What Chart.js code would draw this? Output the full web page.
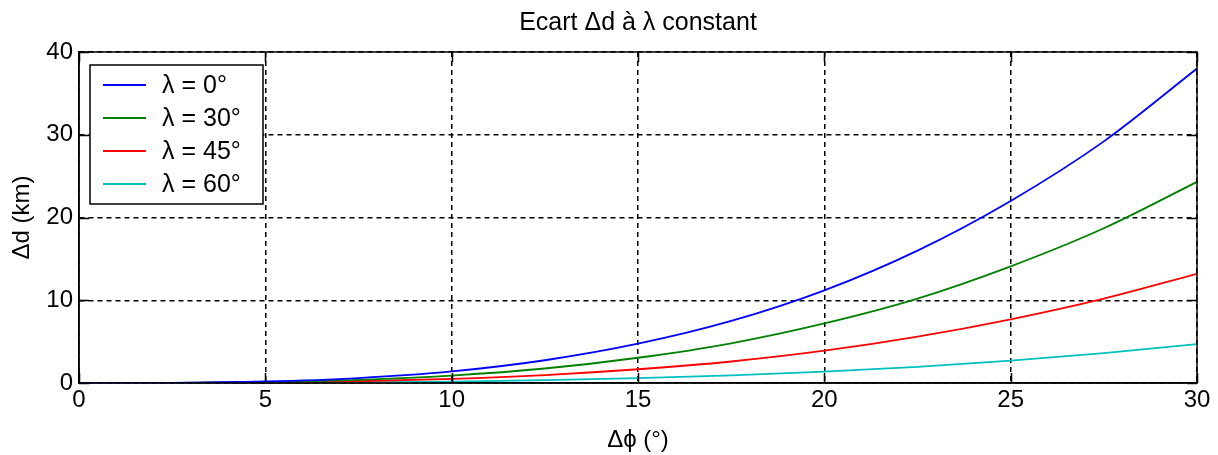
<!DOCTYPE html>
<html>
<head>
<meta charset="utf-8">
<script src="https://cdn.jsdelivr.net/npm/chart.js@4/dist/chart.umd.min.js"></script>
<style>
  html, body { margin: 0; padding: 0; background: #fff; }
  #wrap { width: 1218px; height: 455px; }
</style>
</head>
<body>
<div id="wrap"><canvas id="chart1"></canvas></div>
<script>
// Data
const dphi = [0, 2.5, 5, 7.5, 10, 12.5, 15, 17.5, 20, 22.5, 25, 27.5, 30]
const lambda_labels = ['λ = 0°', 'λ = 30°', 'λ = 45°', 'λ = 60°']
const lambda_colors = ['#0000ff', '#008000', '#ff0000', '#00bfbf']
const dd_0  = [0, 0.02, 0.18, 0.6, 1.4, 2.75, 4.75, 7.5, 11.2, 16.0, 22.0, 29.2, 38.0]
const dd_30 = [0, 0.01, 0.12, 0.38, 0.9, 1.75, 3.05, 4.8, 7.2, 10.2, 14.1, 18.7, 24.3]
const dd_45 = [0, 0.01, 0.06, 0.21, 0.49, 0.96, 1.66, 2.6, 3.9, 5.6, 7.7, 10.2, 13.2]
const dd_60 = [0, 0, 0.02, 0.07, 0.17, 0.34, 0.58, 0.92, 1.37, 1.96, 2.7, 3.6, 4.7]
const series = [dd_0, dd_30, dd_45, dd_60]
const title_text = 'Ecart Δd à λ constant'

const FONT = '"Liberation Sans", Arial, sans-serif'

// inward ticks, box frame, title and legend like matlab
const frame_plugin = {
    id: 'frame',
    afterDatasetsDraw(chart) {
        const { ctx, chartArea: a, scales } = chart
        ctx.save()
        ctx.strokeStyle = '#000'
        ctx.lineWidth = 1.5
        ctx.setLineDash([])
        ctx.beginPath()
        scales.x.ticks.forEach(t => {
            const px = Math.round(scales.x.getPixelForValue(t.value)) + 0.5
            ctx.moveTo(px, a.bottom); ctx.lineTo(px, a.bottom - 10)
            ctx.moveTo(px, a.top); ctx.lineTo(px, a.top + 10)
        })
        scales.y.ticks.forEach(t => {
            const py = Math.round(scales.y.getPixelForValue(t.value)) + 0.5
            ctx.moveTo(a.left, py); ctx.lineTo(a.left + 10, py)
            ctx.moveTo(a.right, py); ctx.lineTo(a.right - 10, py)
        })
        ctx.stroke()
        ctx.strokeRect(a.left, a.top, a.right - a.left, a.bottom - a.top)

        // title centred over the axes
        ctx.fillStyle = '#000'
        ctx.font = '25px ' + FONT
        ctx.textAlign = 'center'
        ctx.textBaseline = 'middle'
        ctx.fillText(title_text, (a.left + a.right) / 2, 23)

        // legend box inside the axes
        const bx = a.left + 11, by = a.top + 13, bw = 173, bh = 139
        ctx.fillStyle = '#fff'
        ctx.fillRect(bx, by, bw, bh)
        ctx.lineWidth = 1.5
        ctx.strokeRect(bx, by, bw, bh)
        ctx.textAlign = 'left'
        chart.data.datasets.forEach((ds, i) => {
            const ly = by + 20 + i * 33
            ctx.strokeStyle = ds.borderColor
            ctx.lineWidth = 1.8
            ctx.beginPath()
            ctx.moveTo(bx + 13, ly); ctx.lineTo(bx + 56, ly)
            ctx.stroke()
            ctx.fillStyle = '#000'
            ctx.fillText(ds.label, bx + 72, ly + 1)
        })
        ctx.restore()
    }
}

const config = {
    type: 'line',
    data: {
        datasets: series.map((s, i) => ({
            label: lambda_labels[i],
            data: dphi.map((x, k) => ({ x: x, y: s[k] })),
            borderColor: lambda_colors[i],
            borderWidth: 1.8,
            pointRadius: 0,
            fill: false,
            cubicInterpolationMode: 'monotone'
        }))
    },
    options: {
        responsive: true,
        maintainAspectRatio: false,
        animation: false,
        layout: { padding: { left: 0, right: 21, top: 52, bottom: 0 } },
        plugins: {
            legend: { display: false },
            tooltip: { enabled: false },
            title: { display: false }
        },
        scales: {
            x: {
                type: 'linear',
                min: 0, max: 30,
                ticks: { stepSize: 5, color: '#000', font: { family: FONT, size: 24 }, padding: 3 },
                grid: { color: '#000', lineWidth: 1.5, drawTicks: false, tickLength: 0 },
                border: { display: true, color: '#000', width: 1.5, dash: [5, 4] },
                title: { display: true, text: 'Δϕ (°)', color: '#000', font: { family: FONT, size: 24 }, padding: { top: 0, bottom: 0 } },
                afterFit: s => { s.height = 72 }
            },
            y: {
                min: 0, max: 40,
                ticks: { stepSize: 10, color: '#000', font: { family: FONT, size: 24 }, padding: 6 },
                grid: { color: '#000', lineWidth: 1.5, drawTicks: false, tickLength: 0 },
                border: { display: true, color: '#000', width: 1.5, dash: [5, 4] },
                title: { display: true, text: 'Δd (km)', color: '#000', font: { family: FONT, size: 24 }, padding: { top: 8, bottom: 0 } },
                afterFit: s => { s.width = 79 }
            }
        }
    },
    plugins: [frame_plugin]
}

const chart1 = new Chart(document.getElementById('chart1'), config)
</script>
</body>
</html>
